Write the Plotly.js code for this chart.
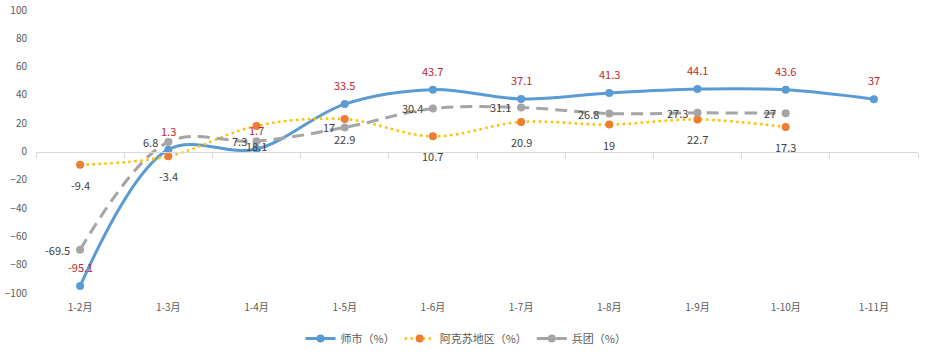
<!DOCTYPE html>
<html>
<head>
<meta charset="utf-8">
<script src="https://cdn.plot.ly/plotly-3.0.1.min.js"></script>
<style>html,body{margin:0;padding:0;background:#fff;}#chart{width:932px;height:353px;}</style>
</head>
<body>
<div id="chart"></div>
<script>
const categories = ['1-2月','1-3月','1-4月','1-5月','1-6月','1-7月','1-8月','1-9月','1-10月','1-11月'];
const shishi    = [-95.1, 1.3, 1.7, 33.5, 43.7, 37.1, 41.3, 44.1, 43.6, 37];
const akesu     = [-9.4, -3.4, 18.1, 22.9, 10.7, 20.9, 19, 22.7, 17.3, null];
const bingtuan  = [-69.5, 6.8, 7.3, 17, 30.4, 31.1, 26.8, 27.3, 27, null];
const seriesNames = ['师市（%）', '阿克苏地区（%）', '兵团（%）'];
const yTicks = [-100, -80, -60, -40, -20, 0, 20, 40, 60, 80, 100];

const FONT = '"Noto Sans CJK SC", "Liberation Sans", sans-serif';

const traces = [
  {
    x: categories, y: shishi, name: seriesNames[0], type: 'scatter', mode: 'lines+markers',
    line: {color: '#5B9BD5', width: 3, shape: 'spline', smoothing: 1},
    marker: {color: '#5B9BD5', size: 8}
  },
  {
    x: categories, y: akesu, name: seriesNames[1], type: 'scatter', mode: 'lines+markers',
    line: {color: '#FFC000', width: 2.5, dash: '2.5px,3.5px', shape: 'spline', smoothing: 1},
    marker: {color: '#ED7D31', size: 8}
  },
  {
    x: categories, y: bingtuan, name: seriesNames[2], type: 'scatter', mode: 'lines+markers',
    line: {color: '#A5A5A5', width: 3, dash: '12px,7px', shape: 'spline', smoothing: 1},
    marker: {color: '#A5A5A5', size: 8}
  },
  {
    x: categories, y: categories.map(() => null), xaxis: 'x2', type: 'scatter', mode: 'markers',
    showlegend: false, hoverinfo: 'skip'
  }
];

const annotations = [];
const labelFont = (c) => ({family: FONT, size: 11, color: c});
shishi.forEach((v, i) => {
  if (v === null) return;
  annotations.push({x: categories[i], y: v, text: String(v), showarrow: false,
    yshift: 19, font: labelFont('#C0262D')});
});
akesu.forEach((v, i) => {
  if (v === null) return;
  annotations.push({x: categories[i], y: v, text: String(v), showarrow: false,
    yshift: -20, font: labelFont('#404040')});
});
bingtuan.forEach((v, i) => {
  if (v === null) return;
  annotations.push({x: categories[i], y: v, text: String(v), showarrow: false,
    xanchor: 'right', xshift: -8, font: labelFont('#404040')});
});

const layout = {
  width: 932, height: 353,
  margin: {l: 36, r: 14, t: 10, b: 60},
  paper_bgcolor: '#fff', plot_bgcolor: '#fff',
  font: {family: FONT, size: 10, color: '#595959'},
  showlegend: true,
  legend: {orientation: 'h', xref: 'container', x: 0.5, xanchor: 'center', y: 0.0, yref: 'container', yanchor: 'bottom',
    font: {family: FONT, size: 11, color: '#595959'}, itemwidth: 30, tracegroupgap: 0},
  xaxis: {
    type: 'category', range: [-0.5, 9.5], showgrid: false, zeroline: false, showline: false,
    ticks: '', tickfont: {family: FONT, size: 10, color: '#595959'}, ticklabelstandoff: 7
  },
  xaxis2: {
    type: 'category', overlaying: 'x', anchor: 'free', position: 0.5, side: 'bottom',
    range: [-0.5, 9.5], showgrid: false, zeroline: false, showline: true, linecolor: '#D9D9D9', linewidth: 1,
    ticks: 'outside', tickson: 'boundaries', ticklen: 5, tickcolor: '#D9D9D9', showticklabels: false
  },
  yaxis: {
    range: [-100, 100], tickmode: 'array', tickvals: yTicks, showgrid: false, zeroline: false, showline: false,
    ticks: '', tickfont: {family: FONT, size: 10, color: '#595959'}, ticklabelstandoff: 8
  },
  annotations: annotations
};

Plotly.newPlot('chart', traces, layout, {displayModeBar: false, staticPlot: true});
</script>
</body>
</html>
